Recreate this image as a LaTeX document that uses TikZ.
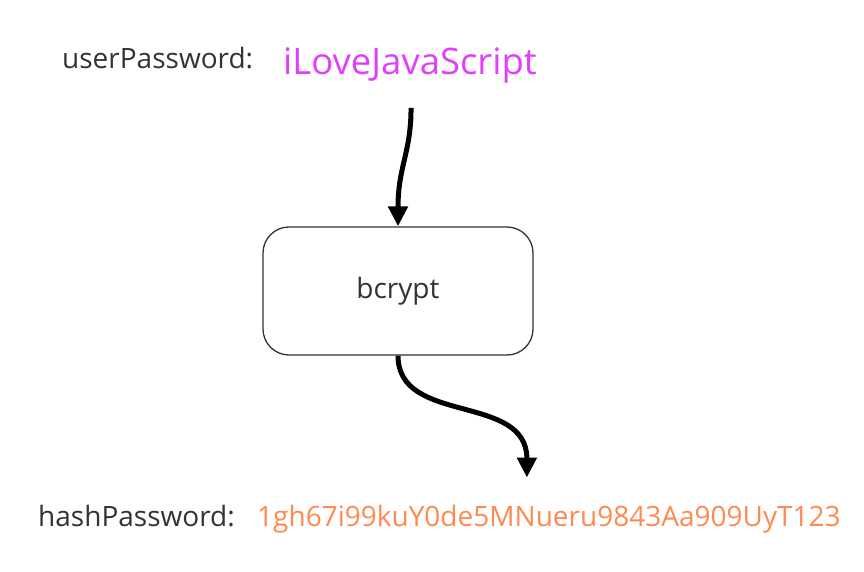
\documentclass[tikz,border=0pt]{standalone}
\usepackage{fontspec}
\setmainfont{Open Sans}
\usetikzlibrary{arrows.meta}
\definecolor{labelgray}{HTML}{333333}
\definecolor{passmagenta}{HTML}{E040FB}
\definecolor{hashorange}{HTML}{FF8A50}
\tikzset{
  fieldlabel/.style={anchor=base west,inner sep=0pt,text=labelgray,font=\fontsize{28}{32}\selectfont},
  passvalue/.style={anchor=base west,inner sep=0pt,text=passmagenta,font=\fontsize{36.5}{42}\selectfont},
  hashvalue/.style={anchor=base west,inner sep=0pt,text=hashorange,font=\fontsize{28}{32}\selectfont},
  hashbox/.style={draw=labelgray,line width=1.3pt,rounded corners=26pt,minimum width=270pt,minimum height=128pt,
    text=labelgray,font=\fontsize{28}{32}\selectfont},
  flow/.style={line width=5pt,-{Triangle[length=20pt,width=19pt]}}
}

\begin{document}
\begin{tikzpicture}[x=1pt,y=-1pt]
  \useasboundingbox (0,0) rectangle (864,572);
  \node[fieldlabel] (userlbl) at (62,69) {userPassword:};
  \node[passvalue] (pass) at (283,75) {iLoveJavaScript};
  \node[hashbox] (bcrypt) at (398,291) {bcrypt};
  \node[fieldlabel] (hashlbl) at (38,526) {hashPassword:};
  \node[hashvalue] (hash) at (257,526) {1gh67i99kuY0de5MNueru9843Aa909UyT123};
  \draw[flow] ([xshift=1pt,yshift=-24pt]pass.south) .. controls +(0,45) and +(0,-60) .. (bcrypt.north);
  \draw[flow] (bcrypt.south) .. controls +(0,70) and +(0,-85) .. ([xshift=-22pt,yshift=27pt]hash.north);
\end{tikzpicture}
\end{document}
